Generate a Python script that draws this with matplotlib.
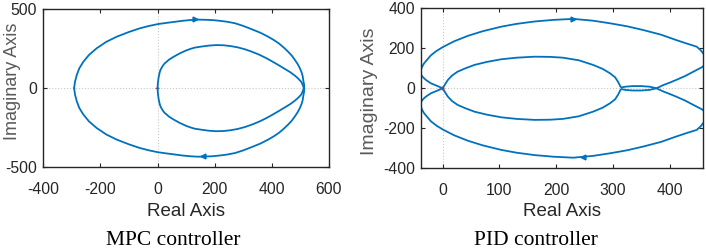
import numpy as np
import matplotlib
matplotlib.use('Agg')
import matplotlib.pyplot as plt

plt.rcParams['font.family'] = ['Liberation Sans', 'DejaVu Sans']
plt.rcParams['axes.unicode_minus'] = False

# MPC controller: upper half of the two loops (lower half is the mirror image)
mpc_outer_re = [513, 513, 510, 508, 504, 498, 490, 480, 470, 457, 442, 425, 407, 387, 360, 330,
                300, 271, 245, 220, 193, 166, 140, 113, 85, 60, 30, 2, -30, -62, -100, -143,
                -180, -213, -240, -260, -274, -283, -289, -292]
mpc_outer_im = [0, 20, 50, 75, 100, 126, 153, 180, 205, 230, 256, 282, 304, 325, 350, 372,
                393, 410, 419, 425, 430, 432, 433, 430, 425, 419, 412, 405, 393, 378, 355, 325,
                292, 252, 210, 166, 125, 82, 40, 0]
mpc_inner_re = [512, 508, 503, 492, 480, 465, 445, 422, 400, 380, 355, 329, 305, 280, 255, 230,
                205, 180, 155, 130, 115, 100, 78, 55, 40, 32, 24, 18, 12, 8, 5, 3, 1, 0]
mpc_inner_im = [0, 20, 40, 61, 80, 100, 122, 147, 170, 190, 212, 231, 246, 258, 266, 271,
                272, 269, 263, 256, 248, 238, 220, 197, 180, 167, 155, 140, 122, 104, 80, 60, 30, 0]
mpc_arrow_re = [132, 160]
mpc_arrow_im = [434, -430]

# PID controller: one branch, the other branch is its conjugate
pid_re = [0, -10, -21, -30, -36, -39, -39, -37, -33, -27, -21, -11, 0, 20, 44, 70, 103, 130,
          162, 195, 230, 265, 295, 325, 354, 385, 412, 430, 448, 455, 462, 466, 464, 457, 442,
          428, 412, 400, 389, 377, 365, 350, 335, 322, 315, 313, 312, 309, 304, 295, 282, 265,
          240, 212, 190, 162, 130, 103, 78, 56, 40, 26, 16, 9, 4, 0]
pid_im = [0, 12, 25, 42, 58, 72, 88, 105, 125, 145, 165, 187, 206, 235, 262, 285, 308, 322,
          334, 342, 347, 338, 325, 310, 291, 268, 241, 224, 208, 190, 165, 140, 120, 105, 83,
          62, 42, 28, 16, 0, -8, -11, -11, -8, -4, -10, -17, -33, -55, -75, -97, -117,
          -140, -153, -157, -158, -153, -145, -132, -117, -100, -83, -63, -42, -20, 0]
pid_arrow_re = [230, 248]
pid_arrow_im = [347, -346]

arrow_marks = ['>', '<']
line_col = '#0072BD'
txt_col = '#262626'


def nyq_axes(ax, xlim, ylim, xticks, yticks):
    ax.set_xlim(*xlim)
    ax.set_ylim(*ylim)
    ax.set_xticks(xticks)
    ax.set_yticks(yticks)
    ax.axhline(0, color='#c8c8c8', lw=0.8, ls=':', zorder=0)
    ax.axvline(0, color='#c8c8c8', lw=0.8, ls=':', zorder=0)
    ax.plot([-1], [0], marker='+', color='#ff3030', ms=3, mew=0.8)
    ax.tick_params(direction='in', top=True, right=True, length=3, width=0.8,
                   labelsize=11.3, colors=txt_col)
    ax.tick_params(axis='x', pad=10.5)
    ax.tick_params(axis='y', pad=4.5)
    for s in ax.spines.values():
        s.set_color(txt_col)
        s.set_linewidth(1.0)


def draw_branch(ax, re, im):
    re, im = np.asarray(re), np.asarray(im)
    for sign in (1, -1):
        ax.plot(re, sign * im, color=line_col, lw=1.3, solid_joinstyle='round')


fig = plt.figure(figsize=(7.06, 2.48), dpi=100)

ax1 = fig.add_axes([0.0613, 0.3254, 0.4047, 0.6383])
nyq_axes(ax1, (-400, 600), (-500, 500), [-400, -200, 0, 200, 400, 600], [-500, 0, 500])
draw_branch(ax1, mpc_outer_re, mpc_outer_im)
draw_branch(ax1, mpc_inner_re, mpc_inner_im)
for x, y, m in zip(mpc_arrow_re, mpc_arrow_im, arrow_marks):
    ax1.plot(x, y, marker=m, color=line_col, ms=3.5)
ax1.set_xlabel('Real Axis', fontsize=13.5, color=txt_col)
ax1.xaxis.set_label_coords(0.5, -0.225)
ax1.set_ylabel('Imaginary Axis', fontsize=13, color='#5a5a5a')
ax1.yaxis.set_label_coords(-0.079, 0.545)

ax2 = fig.add_axes([0.5967, 0.3214, 0.399, 0.6452])
nyq_axes(ax2, (-38, 459), (-400, 400), [0, 100, 200, 300, 400], [-400, -200, 0, 200, 400])
draw_branch(ax2, pid_re, pid_im)
for x, y, m in zip(pid_arrow_re, pid_arrow_im, arrow_marks):
    ax2.plot(x, y, marker=m, color=line_col, ms=3.5)
ax2.set_xlabel('Real Axis', fontsize=13.5, color=txt_col)
ax2.xaxis.set_label_coords(0.5, -0.22)
ax2.set_ylabel('Imaginary Axis', fontsize=14, color='#5a5a5a')
ax2.yaxis.set_label_coords(-0.152, 0.48)

fig.text(0.245, 0.014, 'MPC controller', fontsize=15.5, family='Liberation Serif',
         ha='center', va='baseline', color='black')
fig.text(0.7585, 0.014, 'PID controller', fontsize=15.5, family='Liberation Serif',
         ha='center', va='baseline', color='black')

fig.savefig('out.png', dpi=100)
